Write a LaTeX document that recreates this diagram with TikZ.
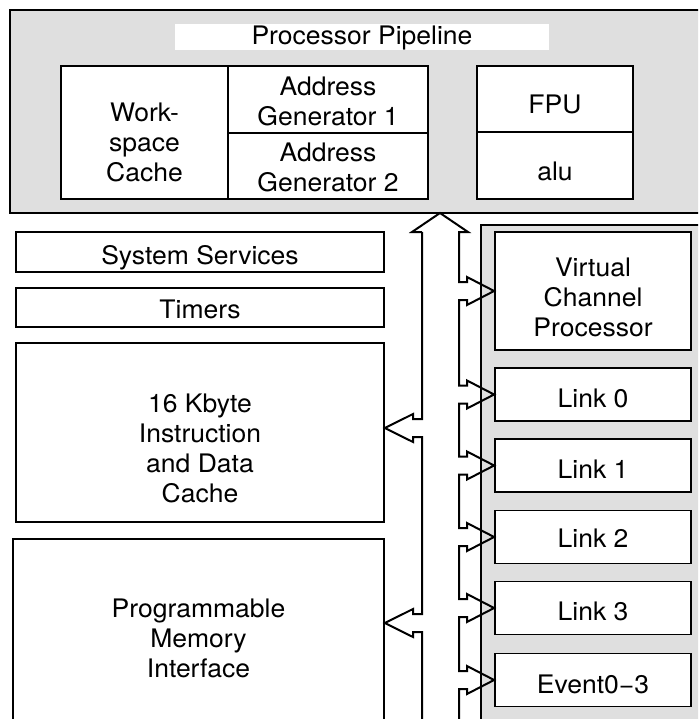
\documentclass[tikz,border=0pt]{standalone}
\usepackage{fontspec}
\setmainfont{TeX Gyre Heros}[FakeStretch=1.04]
\usepackage{tikz}
\usetikzlibrary{calc,positioning}

% push the text of a box down by #1 pt
\newcommand\lowr[1]{\rule{0pt}{\dimexpr 18.7pt+#1pt+#1pt\relax}}

\tikzset{
  unit/.style = {draw, fill=white, line width=1.8pt, align=center, inner sep=0pt},
  panel/.style = {draw, fill=gray!25, line width=2.2pt},
  bus/.style = {draw, line width=2pt, line join=miter},
}

\begin{document}
\begin{tikzpicture}[x=1pt, y=-1pt, font=\fontsize{25.5}{30}\selectfont]
  \useasboundingbox (0,0) rectangle (698,719);
  \clip (0,0) rectangle (698,719);

  % pipeline
  \draw[panel] (10,10) rectangle (720,213);
  \node[fill=white, inner sep=0pt, minimum width=374pt, minimum height=25pt] (ttl) at (362,37) {\lowr{1}Processor Pipeline};
  \node[unit, minimum width=167pt, minimum height=133pt] (wsc) at (144.5,132.5) {\lowr{10}Work-\\space\\Cache};
  \node[unit, minimum width=200pt, minimum height=67pt] (ag1) at (328,99.5) {\lowr{2}Address\\Generator 1};
  \node[unit, minimum width=200pt, minimum height=66pt] (ag2) at (328,166) {\lowr{1}Address\\Generator 2};
  \node[unit, minimum width=156pt, minimum height=66pt] (fpu) at (555,99) {\lowr{5}FPU};
  \node[unit, minimum width=156pt, minimum height=67pt] (alu) at (555,165.5) {\lowr{6}alu};

  % left column
  \node[unit, minimum width=368pt, minimum height=40pt] (sys) at (200,252) {\lowr{6}System Services};
  \node[unit, minimum width=368pt, minimum height=39pt] (tim) at (200,307.5) {\lowr{2}Timers};
  \node[unit, minimum width=368pt, minimum height=179pt] (icache) at (200,432.5) {\lowr{16}16 Kbyte\\Instruction\\and Data\\Cache};
  \node[unit, minimum width=371pt, minimum height=198pt] (pmi) at (198.5,638) {Programmable\\Memory\\Interface};

  % right column
  \draw[panel] (481,225) rectangle (720,740);
  \node[unit, minimum width=196pt, minimum height=118pt] (vcp) at (593,291) {\lowr{6.5}Virtual\\Channel\\Processor};
  \node[unit, minimum width=196pt, minimum height=53pt] (lnk0) at (593,394.5) {\lowr{4}Link 0};
  \node[unit, minimum width=196pt, minimum height=53pt] (lnk1) at (593,465.5) {\lowr{3.5}Link 1};
  \node[unit, minimum width=196pt, minimum height=53pt] (lnk2) at (593,537) {\lowr{1.5}Link 2};
  \node[unit, minimum width=196pt, minimum height=53pt] (lnk3) at (593,608) {\lowr{3}Link 3};
  \node[unit, minimum width=196pt, minimum height=53pt] (evt) at (593,680) {\lowr{4}Event0−3};

  % bus
  \coordinate (ls) at (422,232);
  \coordinate (rs) at (459,232);
  \coordinate (tip) at (440,213);
  \coordinate (icTip) at (icache.east |- 0,428);
  \coordinate (pmTip) at (pmi.east |- 0,623);

  \draw[bus] (ls) -- ++(-10,0) -- (tip) -- ($(rs)+(9,0)$) -- (rs)
    foreach \b in {vcp,lnk0,lnk1,lnk2,lnk3,evt} {
      -- ($(rs |- \b.west)+(0,-9)$) -- ($(rs |- \b.west)+(8,-9)$) -- ($(rs |- \b.west)+(8,-14)$)
      -- (\b.west)
      -- ($(rs |- \b.west)+(8,14)$) -- ($(rs |- \b.west)+(8,9)$) -- ($(rs |- \b.west)+(0,9)$)
    } -- (rs |- 0,730);

  \draw[bus] (ls)
    foreach \t in {icTip,pmTip} {
      -- ($(ls |- \t)+(0,-9)$) -- ($(ls |- \t)+(-9,-9)$) -- ($(ls |- \t)+(-9,-14)$)
      -- (\t)
      -- ($(ls |- \t)+(-9,14)$) -- ($(ls |- \t)+(-9,9)$) -- ($(ls |- \t)+(0,9)$)
    } -- (ls |- 0,730);
\end{tikzpicture}
\end{document}
